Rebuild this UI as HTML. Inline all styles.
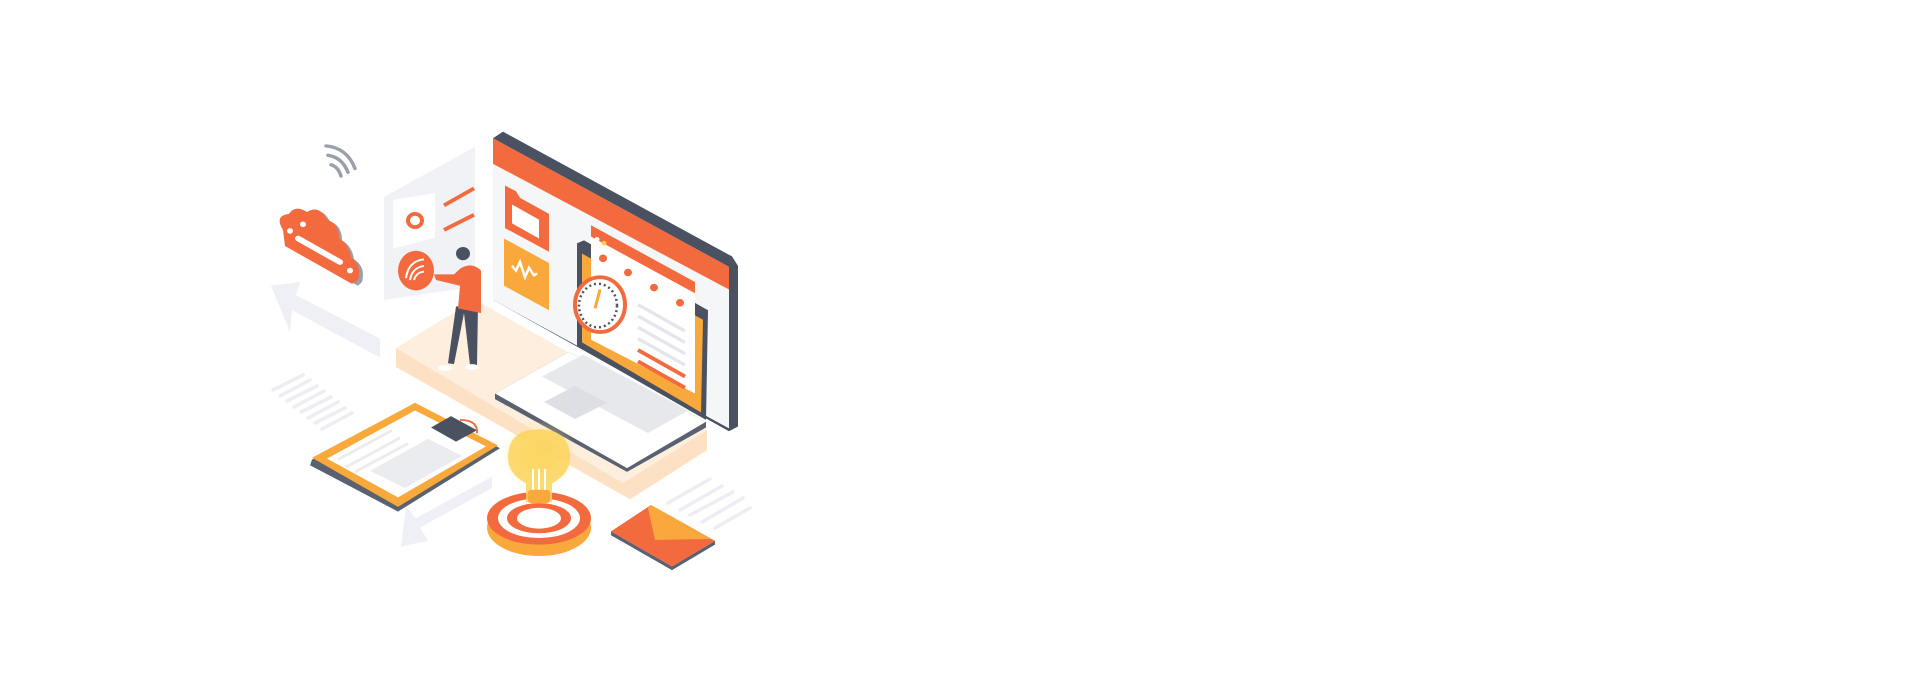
<!DOCTYPE html>
<html><head><meta charset="utf-8"><style>html,body{margin:0;padding:0;background:#fff;width:1925px;height:700px;overflow:hidden}svg{display:block}</style></head>
<body>
<svg width="1925" height="700" viewBox="0 0 1925 700" xmlns="http://www.w3.org/2000/svg">
<rect width="1925" height="700" fill="#fff"/>
<defs>
<radialGradient id="glow"><stop offset="0" stop-color="#fde58a"/><stop offset="1" stop-color="#fde58a" stop-opacity="0"/></radialGradient>
</defs>
<!-- faint lines (actual coords) -->
<g stroke="#eceef3" stroke-width="3.5" stroke-linecap="round">
<line x1="273" y1="390" x2="303" y2="375"/><line x1="280" y1="396" x2="310" y2="380"/><line x1="287" y1="401" x2="317" y2="386"/><line x1="294" y1="407" x2="324" y2="391"/><line x1="301" y1="412" x2="331" y2="397"/><line x1="308" y1="418" x2="338" y2="402"/><line x1="315" y1="423" x2="345" y2="408"/><line x1="322" y1="429" x2="352" y2="413"/>
<line x1="668" y1="503" x2="710" y2="479"/><line x1="680" y1="510" x2="722" y2="486"/><line x1="690" y1="515" x2="733" y2="492"/><line x1="702" y1="522" x2="743" y2="498"/><line x1="715" y1="528" x2="750" y2="508"/>
</g>
<g transform="translate(0,6) scale(1,0.945)">
<!-- faint left arrow -->
<polygon points="271,296 300,292 296,306 380,352 380,372 292,322 290,345" fill="#eef0f5"/>
<!-- faint bottom arrow -->
<polygon points="401,572 428,566 420,552 492,510 492,498 416,542 406,530" fill="#eef0f5"/>
<!-- wifi -->
<g fill="none" stroke="#9aa0ab" stroke-width="3.5" stroke-linecap="round">
<path d="M326,148 Q347,150 355,172"/><path d="M328,158 Q342,160 348,176"/><path d="M331,168 Q338,170 341,180"/>
</g>
<!-- cloud -->
<g>
<path d="M288,240 Q278,226 292,222 Q298,212 310,220 Q322,212 330,228 Q342,232 342,248 Q352,254 354,268 Q366,276 362,292 L358,296 L290,256 Z" fill="#9aa0ab"/>
<path d="M283,237 Q274,222 289,220 Q295,210 307,218 Q319,210 327,226 Q339,230 339,246 Q349,252 351,266 Q362,274 358,290 L352,294 L285,254 Z" fill="#f26a3d"/>
<line x1="298" y1="246" x2="340" y2="271" stroke="#fff" stroke-width="6" stroke-linecap="round"/>
<circle cx="290" cy="238" r="3" fill="#fff"/><circle cx="303" cy="231" r="3" fill="#fff"/><circle cx="350" cy="280" r="3" fill="#fff"/>
</g>
<!-- side panel -->
<polygon points="384,202 475,149 475,297 384,311" fill="#f1f2f6"/>
<polygon points="393,205 435,198 435,245 393,257" fill="#fff"/>
<circle cx="415" cy="227" r="7" fill="none" stroke="#f26a3d" stroke-width="4"/>
<line x1="444" y1="211" x2="474" y2="193" stroke="#f26a3d" stroke-width="4"/>
<line x1="444" y1="237" x2="474" y2="221" stroke="#f26a3d" stroke-width="4"/>
<ellipse cx="416" cy="280" rx="18" ry="21" fill="#f26a3d"/>
<g fill="none" stroke="#fff" stroke-width="2"><path d="M406,288 Q408,270 424,268"/><path d="M410,290 Q412,277 424,275"/><path d="M414,290 Q416,282 424,281"/></g>
<!-- platform -->
<polygon points="396,362 475,311 707,449 707,470 630,522 396,382" fill="#fde1c5"/>
<polygon points="396,362 475,311 707,449 623,505" fill="#fdeede"/>
<!-- monitor -->
<polygon points="503,133 732,265 738,275 738,445 729,450 493,311 493,140" fill="#4a5160"/>
<polygon points="493,140 729,276 729,447 493,311" fill="#f5f6f8"/>
<polygon points="493,140 729,276 729,300 493,167" fill="#f26a3d"/>
<polygon points="505,190 516,196 520,203 549,220 549,260 505,235" fill="#f26a3d"/>
<polygon points="512,210 539,226 539,246 512,230" fill="#fff"/>
<polygon points="504,246 549,272 549,322 504,296" fill="#f9a93b"/>
<path d="M512,275 l4,5 l4,-9 l5,16 l4,-10 l5,8 l3,-2" stroke="#fff" fill="none" stroke-width="2.5"/>
<!-- laptop screen -->
<polygon points="577,251 584,248 708,322 706,438 577,360" fill="#4a5160"/>
<polygon points="582,262 703,332 701,430 582,356" fill="#f9a93b"/>
<polygon points="591,232 695,292 695,410 591,353" fill="#fff"/>
<polygon points="591,232 695,292 695,304 591,244" fill="#f26a3d"/>
<circle cx="597" cy="247" r="2.5" fill="#fff"/><circle cx="604" cy="251" r="2.5" fill="#fbd24e"/>
<g fill="#f26a3d"><circle cx="603" cy="267" r="4"/><circle cx="628" cy="282" r="4"/><circle cx="654" cy="298" r="4"/><circle cx="680" cy="314" r="4"/></g>
<g stroke="#e4e6ec" stroke-width="3.5"><line x1="638" y1="316" x2="685" y2="344"/><line x1="638" y1="328" x2="685" y2="356"/><line x1="638" y1="340" x2="685" y2="368"/><line x1="638" y1="352" x2="685" y2="380"/></g>
<g stroke="#f26a3d" stroke-width="4"><line x1="638" y1="364" x2="685" y2="392"/><line x1="638" y1="376" x2="685" y2="404"/></g>
<ellipse cx="600" cy="316" rx="25" ry="29" fill="#fff" stroke="#f26a3d" stroke-width="4"/>
<ellipse cx="598" cy="317" rx="19" ry="23" fill="none" stroke="#4a5160" stroke-width="2.5" stroke-dasharray="2 3"/>
<line x1="595" y1="320" x2="600" y2="300" stroke="#f9a93b" stroke-width="3"/>
<!-- laptop base -->
<polygon points="495,410 569,366 706,440 706,446 627,493 495,416" fill="#5a6170"/>
<polygon points="495,410 569,366 706,440 627,489" fill="#fff"/>
<polygon points="542,392 583,369 688,428 648,452" fill="#e6e8ec"/>
<polygon points="544,419 575,402 607,420 575,437" fill="#dcdfe4"/>
<!-- person -->
<path d="M456,318 L448,378 L454,379 L464,325 L470,380 L477,380 L478,316 Z" fill="#4a5160"/>
<path d="M460,278 Q472,270 481,280 L481,325 L458,320 L460,296 L436,290 L434,284 L454,284 Z" fill="#f26a3d"/>
<circle cx="463" cy="262" r="7" fill="#4a5160"/>
<ellipse cx="445" cy="383" rx="7" ry="3" fill="#fff"/><ellipse cx="472" cy="382" rx="7" ry="3" fill="#fff"/>
<!-- tablet -->
<polygon points="312,480 415,420 500,468 398,535 310,486" fill="#5a6170"/>
<polygon points="312,478 415,420 498,465 398,530" fill="#f9a93b"/>
<polygon points="327,479 415,428 486,466 398,520" fill="#fff"/>
<polygon points="370,492 428,458 462,476 405,510" fill="#ebecef"/>
<g stroke="#ececef" stroke-width="3"><line x1="338" y1="480" x2="392" y2="449"/><line x1="346" y1="488" x2="400" y2="457"/><line x1="355" y1="493" x2="408" y2="463"/></g>
<polygon points="431,446 451,434 477,449 456,461" fill="#4a5160"/>
<path d="M460,438 Q478,438 477,452" fill="none" stroke="#f26a3d" stroke-width="2"/>
<!-- target & bulb -->
<ellipse cx="539" cy="552" rx="52" ry="30" fill="#f9a93b"/>
<ellipse cx="539" cy="542" rx="52" ry="28" fill="#f26a3d"/>
<ellipse cx="539" cy="542" rx="41" ry="21" fill="#fff"/>
<ellipse cx="539" cy="542" rx="32" ry="16" fill="#f26a3d"/>
<ellipse cx="539" cy="542" rx="22" ry="11" fill="#fff"/>
<circle cx="539" cy="475" r="38" fill="url(#glow)"/>
<path d="M539,448 Q570,448 570,478 Q570,495 552,505 L552,525 L526,525 L526,505 Q508,495 508,478 Q508,448 539,448 Z" fill="#fcd45c" opacity="0.85"/>
<path d="M533,490 L533,512 M539,490 L539,512 M545,490 L545,512" stroke="#fff" stroke-width="2"/>
<rect x="528" y="512" width="22" height="14" rx="3" fill="#f9a93b"/>
<!-- envelope -->
<polygon points="611,556 611,560 672,597 715,570 715,566 672,593" fill="#5a6170"/>
<polygon points="611,556 651,528 715,566 672,593" fill="#f26a3d"/>
<polygon points="648,531 655,565 710,564" fill="#f9a93b"/>
<polygon points="648,531 651,528 715,566 710,564" fill="#f9a93b"/>
</g>
</svg>
</body></html>
